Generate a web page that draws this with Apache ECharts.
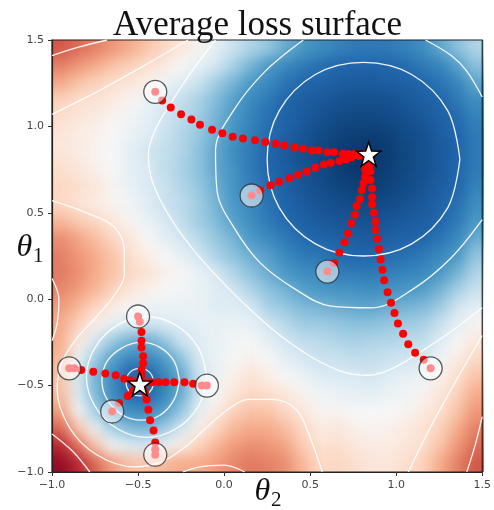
<!DOCTYPE html>
<html>
<head>
<meta charset="utf-8">
<script src="https://cdn.jsdelivr.net/npm/echarts@6/dist/echarts.min.js"></script>
<style>
html, body { margin: 0; padding: 0; background: #ffffff; }
#wrap { position: relative; width: 494px; height: 510px; }
#heat, #main { position: absolute; left: 0; top: 0; width: 494px; height: 510px; }
#heat { filter: url(#smoothCells); clip-path: inset(40px 10px 38px 52px); }
</style>
</head>
<body>
<svg width="0" height="0" style="position:absolute">
  <defs>
    <filter id="smoothCells" x="-5%" y="-5%" width="110%" height="110%" color-interpolation-filters="sRGB">
      <feGaussianBlur stdDeviation="7"/>
      <feComponentTransfer><feFuncA type="linear" slope="0" intercept="1"/></feComponentTransfer>
    </filter>
  </defs>
</svg>
<div id="wrap"><div id="heat"></div><div id="main"></div></div>
<script>
// ---------------- data ----------------
const titleText = 'Average loss surface';
const tickValues = [-1.0, -0.5, 0.0, 0.5, 1.0, 1.5];

// centres of the heat-map cells (same list for θ2 and θ1)
const cellCenters = [-0.95,-0.85,-0.75,-0.65,-0.55,-0.45,-0.35,-0.25,-0.15,-0.05,0.05,0.15,0.25,0.35,0.45,0.55,0.65,0.75,0.85,0.95,1.05,1.15,1.25,1.35,1.45];

// estimated loss level (0 = deepest blue, 100 = deepest red), rows from θ1 = 1.45 (top) down to -0.95
const lossRows = [
 [76,73,70,67,64,60,57,54,51,47,43,40,37,33,30,28,26,24,24,24,26,28,32,36,40],
 [70,67,64,60,58,56,53,50,47,44,39,34,30,27,24,22,20,20,19,20,21,24,26,31,36],
 [64,60,58,56,54,52,49,46,43,38,34,30,27,23,20,19,17,16,16,17,18,20,23,26,32],
 [58,56,55,53,51,48,45,42,39,35,31,27,24,20,17,15,13,12,12,12,15,17,20,24,28],
 [56,54,53,51,49,47,44,41,38,34,30,26,22,19,16,13,10,9,9,10,12,15,18,21,26],
 [54,53,52,50,48,46,43,40,37,33,29,25,21,18,14,10,7,6,5,6,10,12,17,20,24],
 [54,53,51,50,47,44,42,40,36,32,28,24,20,16,12,9,5,3,2,5,9,12,16,19,24],
 [56,54,52,50,47,45,42,39,36,32,29,24,20,17,13,10,6,3,3,6,9,12,16,20,24],
 [57,56,54,51,48,45,43,40,37,33,29,25,21,18,14,11,8,6,5,7,10,13,17,20,26],
 [57,55,53,51,49,46,43,41,38,34,30,27,23,19,16,13,11,10,9,10,13,15,19,22,28],
 [62,59,57,54,51,48,45,42,38,35,31,28,24,21,18,16,14,13,12,14,16,17,20,24,30],
 [68,65,61,57,54,50,47,44,41,37,34,30,27,24,21,19,18,17,16,18,19,20,23,27,33],
 [70,67,64,60,56,53,50,47,44,39,36,33,31,27,24,23,21,20,20,21,22,24,27,30,37],
 [71,68,64,60,57,55,52,50,48,45,40,36,33,30,28,27,25,24,24,25,26,27,30,34,40],
 [69,66,62,58,54,52,50,49,48,46,44,40,36,34,31,30,29,29,28,29,30,31,34,39,43],
 [66,62,57,53,50,48,48,48,48,46,46,45,39,37,35,34,33,32,32,33,34,35,38,44,47],
 [64,58,52,47,44,43,45,46,47,48,48,48,44,41,38,38,37,36,36,37,38,39,43,47,51],
 [64,53,44,37,33,32,36,43,46,48,49,50,47,44,42,41,40,39,40,40,41,42,46,50,54],
 [62,48,38,31,26,26,30,36,45,48,50,52,50,47,45,43,43,42,42,43,44,45,49,53,57],
 [60,45,34,27,20,17,26,32,43,48,52,55,53,50,48,46,45,45,44,46,47,48,52,56,60],
 [61,46,35,28,21,20,26,33,44,50,54,57,56,54,51,49,48,47,47,48,49,51,54,58,64],
 [66,49,39,31,28,27,31,37,47,53,58,60,60,57,54,51,51,50,50,50,51,53,56,60,67],
 [74,60,48,39,35,34,38,44,52,57,62,64,64,61,57,53,54,52,51,52,53,55,58,64,70],
 [84,72,60,49,46,45,48,53,58,62,66,68,67,65,59,55,56,54,53,53,54,56,60,67,73],
 [92,84,74,66,61,60,62,64,64,66,69,71,70,68,62,57,57,56,54,54,56,58,64,70,76]
];

// white contour lines [θ2, θ1]
const contourBigInner = [[1.37,0.81],[1.30,1.09],[1.09,1.30],[0.81,1.37],[0.53,1.30],[0.32,1.09],[0.25,0.81],[0.32,0.53],[0.53,0.32],[0.81,0.25],[1.09,0.32],[1.30,0.53],[1.37,0.81]];
const contourBigSecond = [[0.46,1.50],[0.24,1.32],[0.06,1.10],[-0.05,0.86],[-0.04,0.62],[0.06,0.41],[0.21,0.21],[0.41,0.06],[0.62,-0.04],[0.86,-0.05],[1.10,0.06],[1.32,0.24],[1.50,0.46]];
const contourBigSecondCorner = [[1.17,1.50],[1.32,1.41],[1.41,1.32],[1.50,1.17]];
const contourBigThird = [[-0.05,1.50],[-0.18,1.33],[-0.30,1.15],[-0.40,0.98],[-0.44,0.84],[-0.42,0.69],[-0.33,0.50],[-0.19,0.30],[-0.03,0.12],[0.12,-0.03],[0.30,-0.19],[0.50,-0.33],[0.69,-0.42],[0.84,-0.44],[0.98,-0.40],[1.15,-0.30],[1.33,-0.18],[1.50,-0.05]];
const contourOuterTopLeft = [[-0.21,1.50],[-0.45,1.36],[-0.72,1.21],[-1.00,1.07]];
const contourOuterBottomRight = [[1.07,-1.00],[1.21,-0.72],[1.36,-0.45],[1.50,-0.21]];
const contourOuterMiddle = [[-1.00,0.57],[-0.80,0.50],[-0.64,0.42],[-0.58,0.28],[-0.58,0.14],[-0.64,0.02],[-0.74,-0.10],[-0.85,-0.22],[-0.94,-0.36],[-0.97,-0.52],[-0.90,-0.74],[-0.74,-0.90],[-0.52,-0.97],[-0.36,-0.94],[-0.22,-0.85],[-0.10,-0.74],[0.02,-0.64],[0.14,-0.58],[0.28,-0.58],[0.42,-0.64],[0.50,-0.80],[0.57,-1.00]];
const contourCornerTopLeft = [[-1.00,1.41],[-0.84,1.46],[-0.68,1.50]];
const contourCornerBottomRight = [[1.41,-1.00],[1.46,-0.84],[1.50,-0.68]];
const contourCornerBottomLeft = [[-1.00,-0.78],[-0.88,-0.88],[-0.78,-1.00]];
const contourLeftEdge = [[-1.00,0.12],[-0.96,0.00],[-0.97,-0.14],[-1.00,-0.24]];
const contourBottomEdge = [[0.12,-1.00],[0.00,-0.96],[-0.14,-0.97],[-0.24,-1.00]];
const contourSmallInner = [[-0.41,-0.48],[-0.42,-0.44],[-0.45,-0.41],[-0.49,-0.40],[-0.53,-0.41],[-0.56,-0.44],[-0.57,-0.48],[-0.56,-0.52],[-0.53,-0.55],[-0.49,-0.56],[-0.45,-0.55],[-0.42,-0.52],[-0.41,-0.48]];
const contourSmallMiddle = [[-0.26,-0.47],[-0.29,-0.36],[-0.37,-0.28],[-0.48,-0.25],[-0.59,-0.28],[-0.68,-0.36],[-0.71,-0.47],[-0.68,-0.58],[-0.59,-0.67],[-0.48,-0.70],[-0.37,-0.67],[-0.29,-0.58],[-0.26,-0.47]];
const contourSmallOuter = [[-0.10,-0.45],[-0.15,-0.28],[-0.28,-0.15],[-0.45,-0.10],[-0.62,-0.15],[-0.75,-0.28],[-0.80,-0.45],[-0.75,-0.62],[-0.62,-0.75],[-0.45,-0.80],[-0.28,-0.75],[-0.15,-0.62],[-0.10,-0.45]];

// gradient-descent trajectories [θ2, θ1]; the first point of each is the start
const pathToBig1 = [[-0.40,1.20],[-0.36,1.15],[-0.31,1.11],[-0.25,1.07],[-0.19,1.04],[-0.14,1.01],[-0.07,0.98],[-0.01,0.96],[0.05,0.94],[0.11,0.93],[0.18,0.92],[0.24,0.91],[0.30,0.90],[0.35,0.89],[0.41,0.88],[0.46,0.87],[0.51,0.86],[0.55,0.86],[0.60,0.85],[0.64,0.85],[0.69,0.84],[0.72,0.84],[0.76,0.84],[0.78,0.84],[0.80,0.83],[0.82,0.84]];
const pathToBig2 = [[0.16,0.60],[0.21,0.63],[0.27,0.66],[0.32,0.68],[0.38,0.70],[0.43,0.72],[0.48,0.74],[0.53,0.76],[0.58,0.78],[0.62,0.79],[0.67,0.80],[0.71,0.81],[0.74,0.82],[0.78,0.83],[0.81,0.83]];
const pathToBig3 = [[0.60,0.16],[0.64,0.21],[0.67,0.27],[0.70,0.33],[0.72,0.38],[0.74,0.44],[0.76,0.49],[0.77,0.54],[0.79,0.58],[0.80,0.63],[0.81,0.67],[0.82,0.71],[0.82,0.75],[0.83,0.78],[0.84,0.81]];
const pathToBig4 = [[1.20,-0.40],[1.16,-0.35],[1.11,-0.31],[1.07,-0.26],[1.04,-0.20],[1.01,-0.14],[0.99,-0.08],[0.97,-0.02],[0.95,0.04],[0.93,0.11],[0.92,0.17],[0.91,0.23],[0.90,0.29],[0.89,0.35],[0.88,0.40],[0.88,0.45],[0.87,0.50],[0.86,0.55],[0.86,0.59],[0.86,0.64],[0.85,0.69],[0.85,0.74],[0.85,0.78],[0.84,0.81]];
const pathToSmall1 = [[-0.50,-0.10],[-0.49,-0.13],[-0.48,-0.19],[-0.48,-0.24],[-0.48,-0.28],[-0.47,-0.33],[-0.47,-0.37],[-0.48,-0.41],[-0.48,-0.44]];
const pathToSmall2 = [[-0.90,-0.40],[-0.87,-0.40],[-0.83,-0.41],[-0.76,-0.42],[-0.69,-0.43],[-0.63,-0.44],[-0.58,-0.46],[-0.54,-0.47],[-0.51,-0.48]];
const pathToSmall3 = [[-0.10,-0.50],[-0.13,-0.50],[-0.18,-0.49],[-0.23,-0.48],[-0.29,-0.48],[-0.34,-0.48],[-0.38,-0.48],[-0.42,-0.48],[-0.45,-0.48]];
const pathToSmall4 = [[-0.65,-0.65],[-0.61,-0.60],[-0.56,-0.56],[-0.53,-0.53],[-0.51,-0.51]];
const pathToSmall5 = [[-0.40,-0.90],[-0.40,-0.87],[-0.40,-0.83],[-0.41,-0.76],[-0.43,-0.70],[-0.44,-0.64],[-0.45,-0.58],[-0.46,-0.54],[-0.47,-0.51]];

const bigMinimum = [0.84, 0.84];
const smallMinimum = [-0.49, -0.49];

// ---------------- styling helpers ----------------
const palette = ['#053061','#2166ac','#4393c3','#92c5de','#d1e5f0','#f7f7f7','#fddbc7','#f4a582','#d6604d','#b2182b','#67001f'];
const colorStops = [[0,0],[10,0.05],[20,0.10],[30,0.21],[40,0.35],[48,0.465],[52,0.53],[56,0.59],[60,0.645],[65,0.70],[70,0.755],[80,0.85],[90,0.93],[100,1.0]];
function hexToRgb(h){ return [parseInt(h.slice(1,3),16), parseInt(h.slice(3,5),16), parseInt(h.slice(5,7),16)]; }
function paletteAt(p){
  const s = Math.max(0, Math.min(1, p)) * (palette.length - 1);
  const i = Math.min(Math.floor(s), palette.length - 2);
  const f = s - i;
  const a = hexToRgb(palette[i]), b = hexToRgb(palette[i + 1]);
  return 'rgb(' + a.map((c, k) => Math.round(c + (b[k] - c) * f)).join(',') + ')';
}
function stopPos(v){
  for (let k = 0; k < colorStops.length - 1; k++) {
    const [v0, p0] = colorStops[k], [v1, p1] = colorStops[k + 1];
    if (v <= v1) return p0 + (p1 - p0) * (v - v0) / (v1 - v0);
  }
  return 1;
}
const colorRamp = [];
for (let v = 0; v <= 100; v += 2) colorRamp.push(paletteAt(stopPos(v)));

const fmt = v => (v < 0 ? '\u2212' : '') + Math.abs(v).toFixed(1);

// ---------------- heat map (own layer) ----------------
const heatData = [];
lossRows.forEach((row, r) => row.forEach((val, c) => heatData.push([c, lossRows.length - 1 - r, val])));
const catLabels = cellCenters.map(String);

const heatChart = echarts.init(document.getElementById('heat'), null, {renderer: 'canvas'});
heatChart.setOption({
  animation: false,
  grid: {left: 52, top: 40, width: 432, height: 432, show: false},
  xAxis: {type: 'category', data: catLabels, show: false},
  yAxis: {type: 'category', data: catLabels, show: false},
  visualMap: {type: 'continuous', min: 0, max: 100, show: false, inRange: {color: colorRamp}},
  series: [{type: 'heatmap', data: heatData, silent: true, emphasis: {disabled: true}, progressive: 0}]
});

// ---------------- everything else ----------------
const contours = [contourBigInner, contourBigSecond, contourBigSecondCorner, contourBigThird,
  contourOuterTopLeft, contourOuterBottomRight, contourOuterMiddle, contourCornerTopLeft,
  contourCornerBottomRight, contourCornerBottomLeft, contourLeftEdge, contourBottomEdge,
  contourSmallInner, contourSmallMiddle, contourSmallOuter];
const paths = [pathToBig1, pathToBig2, pathToBig3, pathToBig4, pathToSmall1, pathToSmall2, pathToSmall3, pathToSmall4, pathToSmall5];
const startPoints = paths.map(p => p[0]);
const allSteps = [].concat(...paths);

const starPath = 'path://M50,2 L61.8,36.2 L97.6,36.9 L69,58.6 L79.4,92.8 L50,72.4 L20.6,92.8 L31,58.6 L2.4,36.9 L38.2,36.2 Z';

const axisCommon = {
  type: 'value', min: -1, max: 1.5, interval: 0.5,
  axisLine: {show: true, onZero: false, lineStyle: {color: '#222', width: 1.2}},
  axisTick: {show: true, length: 4, lineStyle: {color: '#333', width: 1}},
  axisLabel: {formatter: fmt, fontFamily: 'DejaVu Sans', fontSize: 11, color: '#444', margin: 8},
  splitLine: {show: false}
};

const series = [];
contours.forEach(c => series.push({
  type: 'line', data: c, smooth: 0.35, symbol: 'none', silent: true, z: 2,
  lineStyle: {color: 'rgba(255,255,255,0.92)', width: 1.3}
}));
series.push({type: 'scatter', data: allSteps, symbolSize: 8, silent: true, z: 3,
  itemStyle: {color: '#ff0000', opacity: 1}});
series.push({type: 'scatter', data: startPoints, symbolSize: 23, silent: true, z: 4,
  itemStyle: {color: 'rgba(255,255,255,0.55)', borderColor: 'rgba(50,50,50,0.8)', borderWidth: 1.3, opacity: 1}});
series.push({type: 'scatter', data: [bigMinimum, smallMinimum], symbol: starPath, symbolSize: 24, silent: true, z: 5,
  itemStyle: {color: '#ffffff', borderColor: '#000000', borderWidth: 1.5, opacity: 1}});

const mainChart = echarts.init(document.getElementById('main'), null, {renderer: 'canvas'});
mainChart.setOption({
  animation: false,
  title: {text: titleText, left: 108, top: 3,
    textStyle: {fontFamily: 'Liberation Serif', fontSize: 35, fontWeight: 'normal', color: '#111'}},
  grid: {left: 52, top: 40, width: 432, height: 432, show: true, borderColor: '#222', borderWidth: 1.2, backgroundColor: 'transparent'},
  xAxis: axisCommon,
  yAxis: axisCommon,
  graphic: [
    {type: 'text', x: 268, y: 492, silent: true,
      style: {text: '{t|\u03b8}{s|2}', textAlign: 'center', textVerticalAlign: 'middle',
        rich: {t: {fontFamily: 'Liberation Serif', fontStyle: 'italic', fontSize: 32, fill: '#111', color: '#111'},
               s: {fontFamily: 'Liberation Serif', fontSize: 21, fill: '#111', color: '#111', padding: [16, 0, 0, 1]}}}},
    {type: 'text', x: 30, y: 248, silent: true,
      style: {text: '{t|\u03b8}{s|1}', textAlign: 'center', textVerticalAlign: 'middle',
        rich: {t: {fontFamily: 'Liberation Serif', fontStyle: 'italic', fontSize: 32, fill: '#111', color: '#111'},
               s: {fontFamily: 'Liberation Serif', fontSize: 21, fill: '#111', color: '#111', padding: [16, 0, 0, 1]}}}}
  ],
  series: series
});
</script>
</body>
</html>
